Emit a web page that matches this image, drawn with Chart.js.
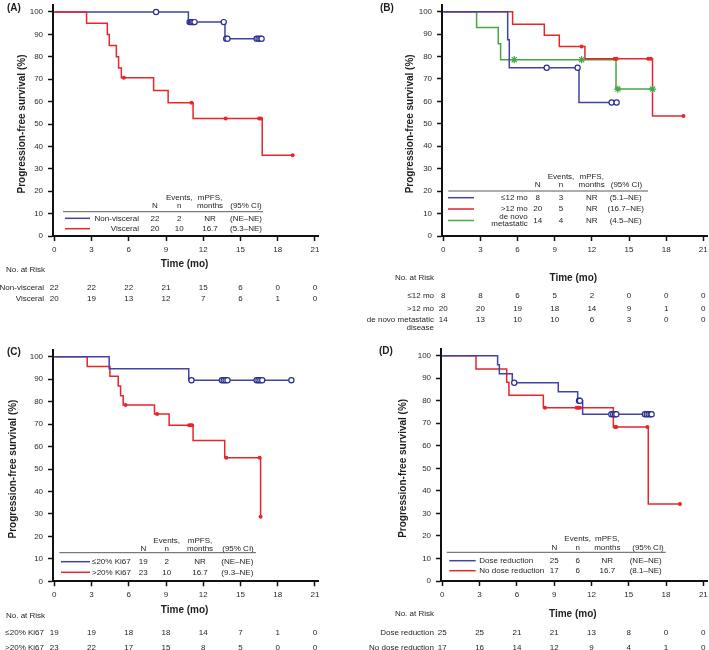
<!DOCTYPE html>
<html><head><meta charset="utf-8">
<script src="https://cdn.jsdelivr.net/npm/chart.js@4/dist/chart.umd.min.js"></script>
<style>
html,body{margin:0;padding:0;background:#fff;}
#wrap{position:relative;width:709px;height:650px;overflow:hidden;background:#fff;}
canvas{position:absolute;}
</style></head><body>
<div id="wrap">
<canvas id="cA" width="355" height="325" style="left:0px;top:0px"></canvas>
<canvas id="cC" width="355" height="325" style="left:0px;top:325px"></canvas>
<canvas id="cB" width="354" height="335" style="left:355px;top:0px"></canvas>
<canvas id="cD" width="354" height="325" style="left:355px;top:325px"></canvas>
</div>
<script>
// ---------- shared ticks ----------
const timeTicks = [0, 3, 6, 9, 12, 15, 18, 21];
const survTicks = [0, 10, 20, 30, 40, 50, 60, 70, 80, 90, 100];

// ---------- Panel A ----------
const aNonVisceralTime = [0, 10.8, 13.75, 16.7];
const aNonVisceralSurv = [100, 95.5, 88.1, 88.1];
const aNonVisceralCensorTime = [8.2, 10.9, 11.0, 11.1, 11.2, 11.3, 13.65, 13.85, 13.95, 16.3, 16.45, 16.6, 16.7];
const aNonVisceralCensorSurv = [100, 95.5, 95.5, 95.5, 95.5, 95.5, 95.5, 88.1, 88.1, 88.1, 88.1, 88.1, 88.1];
const aVisceralTime = [0, 2.6, 4.27, 4.43, 5.0, 5.18, 5.4, 8.0, 9.17, 11.18, 16.75, 19.2];
const aVisceralSurv = [100, 95, 90, 85, 80, 75, 70.6, 65, 59.5, 52.5, 36, 36];
const aVisceralCensorTime = [5.6, 11.05, 13.8, 16.5, 16.65, 19.2];
const aVisceralCensorSurv = [70.6, 59.5, 52.5, 52.5, 52.5, 36];
const aLabels = ['Non-visceral', 'Visceral'];
const aN = [22, 20];
const aEvents = [2, 10];
const aMpfs = ['NR', '16.7'];
const aCI = ['(NE–NE)', '(5.3–NE)'];
const aRiskNonVisceral = [22, 22, 22, 21, 15, 6, 0, 0];
const aRiskVisceral = [20, 19, 13, 12, 7, 6, 1, 0];

// ---------- Panel B ----------
const bLe12Time = [0, 5.2, 5.33, 10.96, 14.0];
const bLe12Surv = [100, 87.5, 75, 59.5, 59.5];
const bLe12CensorTime = [8.35, 10.85, 13.6, 14.0];
const bLe12CensorSurv = [75, 75, 59.5, 59.5];
const bGt12Time = [0, 5.6, 8.16, 9.37, 11.44, 16.9, 19.4];
const bGt12Surv = [100, 94.4, 89.5, 84.5, 79, 53.5, 53.5];
const bGt12CensorTime = [11.17, 13.85, 14.0, 16.55, 16.75, 19.4];
const bGt12CensorSurv = [84.5, 79, 79, 79, 79, 53.5];
const bDeNovoTime = [0, 2.69, 4.44, 4.63, 13.95, 16.9];
const bDeNovoSurv = [100, 92.9, 85.7, 78.6, 65.5, 65.5];
const bDeNovoCensorTime = [5.73, 11.17, 14.1, 16.9];
const bDeNovoCensorSurv = [78.6, 78.6, 65.5, 65.5];
const bLabels = ['≤12 mo', '>12 mo', 'de novo\nmetastatic'];
const bRiskLabels = ['≤12 mo', '>12 mo', 'de novo metastatic\ndisease'];
const bN = [8, 20, 14];
const bEvents = [3, 5, 4];
const bMpfs = ['NR', 'NR', 'NR'];
const bCI = ['(5.1–NE)', '(16.7–NE)', '(4.5–NE)'];
const bRiskLe12 = [8, 8, 6, 5, 2, 0, 0, 0];
const bRiskGt12 = [20, 20, 19, 18, 14, 9, 1, 0];
const bRiskDeNovo = [14, 13, 10, 10, 6, 3, 0, 0];

// ---------- Panel C ----------
const cLe20Time = [0, 4.42, 10.83, 19.1];
const cLe20Surv = [100, 94.7, 89.5, 89.5];
const cLe20CensorTime = [11.05, 13.5, 13.65, 13.8, 13.95, 16.3, 16.45, 16.6, 16.75, 19.1];
const cLe20CensorSurv = [89.5, 89.5, 89.5, 89.5, 89.5, 89.5, 89.5, 89.5, 89.5, 89.5];
const cGt20Time = [0, 2.65, 4.48, 5.15, 5.34, 5.55, 8.07, 9.25, 11.18, 13.73, 16.62];
const cGt20Surv = [100, 95.7, 91.3, 87.0, 82.6, 78.5, 74.5, 69.5, 62.7, 55, 28.8];
const cGt20CensorTime = [5.74, 8.28, 10.86, 11.0, 11.1, 13.86, 16.54, 16.62];
const cGt20CensorSurv = [78.5, 74.5, 69.5, 69.5, 69.5, 55, 55, 28.8];
const cLabels = ['≤20% Ki67', '>20% Ki67'];
const cN = [19, 23];
const cEvents = [2, 10];
const cMpfs = ['NR', '16.7'];
const cCI = ['(NE–NE)', '(9.3–NE)'];
const cRiskLe20 = [19, 19, 18, 18, 14, 7, 1, 0];
const cRiskGt20 = [23, 22, 17, 15, 8, 5, 0, 0];

// ---------- Panel D ----------
const dDoseTime = [0, 4.45, 4.59, 5.63, 9.33, 10.89, 11.29, 16.84];
const dDoseSurv = [100, 96, 92, 88, 84, 80, 74, 74];
const dDoseCensorTime = [5.79, 11.0, 11.07, 13.6, 13.75, 13.9, 14.0, 16.3, 16.45, 16.6, 16.75, 16.84];
const dDoseCensorSurv = [88, 80, 80, 74, 74, 74, 74, 74, 74, 74, 74, 74];
const dNoDoseTime = [0, 2.71, 5.18, 5.36, 8.13, 13.76, 16.57, 19.12];
const dNoDoseSurv = [100, 94.1, 88.2, 82.4, 76.9, 68.3, 34.2, 34.2];
const dNoDoseCensorTime = [8.26, 10.8, 10.95, 11.07, 13.89, 14.0, 16.5, 19.12];
const dNoDoseCensorSurv = [76.9, 76.9, 76.9, 76.9, 68.3, 68.3, 68.3, 34.2];
const dLabels = ['Dose reduction', 'No dose reduction'];
const dN = [25, 17];
const dEvents = [6, 6];
const dMpfs = ['NR', '16.7'];
const dCI = ['(NE–NE)', '(8.1–NE)'];
const dRiskDose = [25, 25, 21, 21, 13, 8, 0, 0];
const dRiskNoDose = [17, 16, 14, 12, 9, 4, 1, 0];

// ---------- styles ----------
const BLUE = '#4343a3', BLUE_MARK = '#2b2f8f', RED = '#e5262b', GREEN = '#47a647';
const FONT = '"Liberation Sans", Arial, Helvetica, sans-serif';
const TXT = '#1e1e1e';

function pts(t, s) { return t.map((x, i) => ({ x: x, y: s[i] })); }

function stepDs(t, s, color, under) {
  return { type: 'line', data: pts(t, s), stepped: 'before', borderColor: color, borderWidth: 1.5,
           pointRadius: 0, fill: false, order: under ? 2 : 1 };
}
function censorDs(t, s, kind) {
  if (kind === 'circle') return { type: 'scatter', data: pts(t, s), pointStyle: 'circle', pointRadius: 2.6,
      borderColor: BLUE_MARK, backgroundColor: '#ffffff', borderWidth: 1.2, order: 0 };
  if (kind === 'dot') return { type: 'scatter', data: pts(t, s), pointStyle: 'circle', pointRadius: 2,
      borderColor: RED, backgroundColor: RED, borderWidth: 0, order: 0 };
  return { type: 'scatter', data: pts(t, s), pointStyle: 'star', pointRadius: 3.6,
      borderColor: GREEN, backgroundColor: GREEN, borderWidth: 1.2, order: 0 };
}

function drawLines(ctx, text, x, y, align, spacing, mode) {
  const lines = text.split('\n');
  ctx.textAlign = align;
  lines.forEach((ln, k) => {
    let yy;
    if (mode === 'center') yy = y + (k - (lines.length - 1) / 2) * spacing;
    else yy = y + k * spacing;
    ctx.fillText(ln, x, yy);
  });
}

function makePlugin(info, L) {
  return {
    id: 'panelText' + info.tag.replace(/\W/g, ''),
    afterDraw(chart) {
      const ctx = chart.ctx, xs = chart.scales.x, ys = chart.scales.y;
      ctx.save();
      ctx.fillStyle = TXT;
      ctx.textBaseline = 'middle';
      // panel tag
      ctx.font = 'bold 10px ' + FONT;
      ctx.textAlign = 'left';
      ctx.fillText(info.tag, L.tag.x, L.tag.y);
      // y title
      ctx.save();
      ctx.translate(L.yTitleX, ys.getPixelForValue(50));
      ctx.rotate(-Math.PI / 2);
      ctx.textAlign = 'center';
      ctx.fillText('Progression-free survival (%)', 0, 0);
      ctx.restore();
      // x title
      ctx.textAlign = 'center';
      ctx.fillText('Time (mo)', xs.getPixelForValue(10.5), L.xTitleY);

      // legend table
      const lg = L.legend;
      ctx.font = '8px ' + FONT;
      ctx.textAlign = 'center';
      ctx.fillText('N', lg.cols[0], lg.h2);
      ctx.fillText('Events,', lg.cols[1], lg.h1);
      ctx.fillText('n', lg.cols[1], lg.h2);
      ctx.fillText('mPFS,', lg.cols[2], lg.h1);
      ctx.fillText('months', lg.cols[2], lg.h2);
      ctx.fillText('(95% CI)', lg.ciHdr, lg.h2);
      ctx.strokeStyle = '#5a5a5a';
      ctx.lineWidth = 1;
      ctx.beginPath();
      ctx.moveTo(lg.rule.x0, lg.rule.y);
      ctx.lineTo(lg.rule.x1, lg.rule.y);
      ctx.stroke();
      info.series.forEach((s, i) => {
        const y = lg.rows[i];
        ctx.strokeStyle = s.color;
        ctx.lineWidth = 1.5;
        ctx.beginPath();
        ctx.moveTo(lg.seg[0], y);
        ctx.lineTo(lg.seg[1], y);
        ctx.stroke();
        drawLines(ctx, s.label, lg.labelX, y, lg.labelAlign, 7, 'center');
        ctx.textAlign = 'center';
        ctx.fillText(String(s.n), lg.cols[0], y);
        ctx.fillText(String(s.events), lg.cols[1], y);
        ctx.fillText(s.mpfs, lg.cols[2], y);
        ctx.fillText(s.ci, lg.cols[3], y);
      });

      // number at risk
      const rk = L.risk;
      ctx.textAlign = rk.hdr.align;
      ctx.fillText('No. at Risk', rk.hdr.x, rk.hdr.y);
      info.series.forEach((s, i) => {
        const y = rk.rows[i];
        drawLines(ctx, s.riskLabel, rk.labelX, y, 'right', 7.5, 'top');
        ctx.textAlign = 'center';
        s.risk.forEach((v, j) => {
          ctx.fillText(String(v), xs.getPixelForValue(timeTicks[j]), y);
        });
      });
      ctx.restore();
    }
  };
}

const YW = 30, XH = 20;

function buildChart(canvasId, info, L) {
  const cv = document.getElementById(canvasId);
  const W = cv.width, H = cv.height;
  const datasets = [];
  info.series.forEach(s => { datasets.push(stepDs(s.t, s.s, s.color, s.under)); });
  info.series.forEach(s => { datasets.push(censorDs(s.ct, s.cs, s.mark)); });
  const tickFont = { size: 8, family: FONT };
  new Chart(cv.getContext('2d'), {
    type: 'line',
    data: { datasets: datasets },
    options: {
      responsive: false,
      animation: false,
      events: [],
      layout: {
        autoPadding: false,
        padding: { left: L.area.l - YW, right: W - L.area.r, top: L.area.t, bottom: H - L.area.b - XH }
      },
      plugins: { legend: { display: false }, tooltip: { enabled: false }, title: { display: false } },
      scales: {
        x: {
          type: 'linear', min: -0.1, max: 21.3,
          afterBuildTicks: sc => { sc.ticks = timeTicks.map(v => ({ value: v })); },
          afterFit: sc => { sc.height = XH; sc.paddingLeft = 0; sc.paddingRight = 0; },
          ticks: { autoSkip: false, maxRotation: 0, font: tickFont, color: '#2a2a2a', padding: 4,
                   callback: v => String(v) },
          grid: { display: true, drawOnChartArea: false, drawTicks: true, tickLength: 5,
                  tickWidth: 1.5, tickColor: '#111' },
          border: { display: true, width: 2, color: '#111' }
        },
        y: {
          type: 'linear', min: 0, max: 103,
          afterBuildTicks: sc => { sc.ticks = survTicks.map(v => ({ value: v })); },
          afterFit: sc => { sc.width = YW; sc.paddingTop = 0; sc.paddingBottom = 0; },
          ticks: { autoSkip: false, font: tickFont, color: '#2a2a2a', padding: 5,
                   callback: v => String(v) },
          grid: { display: true, drawOnChartArea: false, drawTicks: true, tickLength: 5,
                  tickWidth: 1.5, tickColor: '#111' },
          border: { display: true, width: 2, color: '#111' }
        }
      }
    },
    plugins: [makePlugin(info, L)]
  });
}

// ---------- panel assembly ----------
const infoA = { tag: '(A)', series: [
  { label: aLabels[0], riskLabel: aLabels[0], color: BLUE, mark: 'circle', under: true, t: aNonVisceralTime, s: aNonVisceralSurv,
    ct: aNonVisceralCensorTime, cs: aNonVisceralCensorSurv, n: aN[0], events: aEvents[0], mpfs: aMpfs[0], ci: aCI[0], risk: aRiskNonVisceral },
  { label: aLabels[1], riskLabel: aLabels[1], color: RED, mark: 'dot', t: aVisceralTime, s: aVisceralSurv,
    ct: aVisceralCensorTime, cs: aVisceralCensorSurv, n: aN[1], events: aEvents[1], mpfs: aMpfs[1], ci: aCI[1], risk: aRiskVisceral }
]};
const infoB = { tag: '(B)', series: [
  { label: bLabels[0], riskLabel: bRiskLabels[0], color: BLUE, mark: 'circle', t: bLe12Time, s: bLe12Surv,
    ct: bLe12CensorTime, cs: bLe12CensorSurv, n: bN[0], events: bEvents[0], mpfs: bMpfs[0], ci: bCI[0], risk: bRiskLe12 },
  { label: bLabels[1], riskLabel: bRiskLabels[1], color: RED, mark: 'dot', t: bGt12Time, s: bGt12Surv,
    ct: bGt12CensorTime, cs: bGt12CensorSurv, n: bN[1], events: bEvents[1], mpfs: bMpfs[1], ci: bCI[1], risk: bRiskGt12 },
  { label: bLabels[2], riskLabel: bRiskLabels[2], color: GREEN, mark: 'star', t: bDeNovoTime, s: bDeNovoSurv,
    ct: bDeNovoCensorTime, cs: bDeNovoCensorSurv, n: bN[2], events: bEvents[2], mpfs: bMpfs[2], ci: bCI[2], risk: bRiskDeNovo }
]};
const infoC = { tag: '(C)', series: [
  { label: cLabels[0], riskLabel: cLabels[0], color: BLUE, mark: 'circle', t: cLe20Time, s: cLe20Surv,
    ct: cLe20CensorTime, cs: cLe20CensorSurv, n: cN[0], events: cEvents[0], mpfs: cMpfs[0], ci: cCI[0], risk: cRiskLe20 },
  { label: cLabels[1], riskLabel: cLabels[1], color: RED, mark: 'dot', t: cGt20Time, s: cGt20Surv,
    ct: cGt20CensorTime, cs: cGt20CensorSurv, n: cN[1], events: cEvents[1], mpfs: cMpfs[1], ci: cCI[1], risk: cRiskGt20 }
]};
const infoD = { tag: '(D)', series: [
  { label: dLabels[0], riskLabel: dLabels[0], color: BLUE, mark: 'circle', t: dDoseTime, s: dDoseSurv,
    ct: dDoseCensorTime, cs: dDoseCensorSurv, n: dN[0], events: dEvents[0], mpfs: dMpfs[0], ci: dCI[0], risk: dRiskDose },
  { label: dLabels[1], riskLabel: dLabels[1], color: RED, mark: 'dot', t: dNoDoseTime, s: dNoDoseSurv,
    ct: dNoDoseCensorTime, cs: dNoDoseCensorSurv, n: dN[1], events: dEvents[1], mpfs: dMpfs[1], ci: dCI[1], risk: dRiskNoDose }
]};

const layoutA = {
  area: { l: 53.06, r: 318.7, t: 5.28, b: 236 },
  tag: { x: 7, y: 8 }, yTitleX: 22, xTitleY: 264,
  legend: { h1: 198, h2: 206, rule: { y: 211.7, x0: 63, x1: 263 }, rows: [218.3, 228.7], seg: [65, 90],
            labelX: 139, labelAlign: 'right', cols: [155, 179.3, 210, 246], ciHdr: 246 },
  risk: { hdr: { x: 6, y: 270, align: 'left' }, labelX: 44, rows: [287.3, 299] }
};
const layoutB = {
  area: { l: 87.06, r: 352.0, t: 4.95, b: 236 },
  tag: { x: 25, y: 8 }, yTitleX: 55, xTitleY: 278,
  legend: { h1: 176.7, h2: 185, rule: { y: 191, x0: 93.3, x1: 293 }, rows: [197.7, 209, 220.5], seg: [93, 119],
            labelX: 172.7, labelAlign: 'right', cols: [182.7, 206, 236.7, 270.7], ciHdr: 271.5 },
  risk: { hdr: { x: 79, y: 278, align: 'right' }, labelX: 79, rows: [296, 308.3, 320] }
};
const layoutC = {
  area: { l: 53.06, r: 318.7, t: 25.0, b: 256.3 },
  tag: { x: 7, y: 27.7 }, yTitleX: 13, xTitleY: 285,
  legend: { h1: 215.7, h2: 223.3, rule: { y: 227.7, x0: 59.3, x1: 256 }, rows: [236.7, 247.3], seg: [61, 90],
            labelX: 92, labelAlign: 'left', cols: [143.3, 166.7, 200, 237.3], ciHdr: 238 },
  risk: { hdr: { x: 6, y: 290.7, align: 'left' }, labelX: 44, rows: [307.3, 322.3] }
};
const layoutD = {
  area: { l: 86.06, r: 352.06, t: 23.9, b: 256 },
  tag: { x: 24, y: 26.7 }, yTitleX: 48, xTitleY: 289,
  legend: { h1: 214, h2: 222.3, rule: { y: 227.3, x0: 91.7, x1: 310.7 }, rows: [235.7, 245.7], seg: [94.3, 120.7],
            labelX: 124.3, labelAlign: 'left', cols: [199.3, 222.7, 252.3, 290.7], ciHdr: 293 },
  risk: { hdr: { x: 79, y: 289, align: 'right' }, labelX: 79, rows: [307.3, 322.3] }
};

buildChart('cA', infoA, layoutA);
buildChart('cC', infoC, layoutC);
buildChart('cB', infoB, layoutB);
buildChart('cD', infoD, layoutD);
</script>
</body></html>
